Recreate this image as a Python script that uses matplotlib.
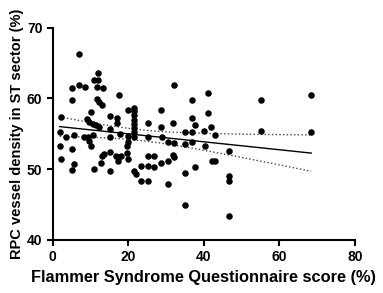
import numpy as np
import matplotlib
matplotlib.use('Agg')
import matplotlib.pyplot as plt

plt.rcParams['font.family'] = ['Liberation Sans', 'DejaVu Sans']
plt.rcParams['font.weight'] = 'bold'

# Flammer score (%) and RPC vessel density in ST sector (%)
fsq_score = [
    6.9, 11.9, 11.0, 11.9, 5.1, 6.8, 8.5, 11.7, 13.3, 17.4, 32.2, 5.1,
    11.7, 12.3, 13.1, 41.1, 36.8, 28.6,
    21.6, 21.6, 21.6, 21.6, 21.6, 21.6, 21.6, 21.6,
    19.8, 10.2, 2.1, 15.2, 16.9, 16.9,
    9.0, 9.7, 10.6, 11.5, 12.2,
    25.2, 31.8, 36.8, 37.5, 41.1, 15.2, 28.7, 40.1, 41.8, 43.0, 35.0, 36.8,
    1.8, 3.5, 5.5, 8.3, 9.3, 9.5, 10.6, 15.1, 17.9, 19.8, 19.9, 19.7,
    25.2, 28.9, 30.5, 32.2, 35.0, 36.8, 40.2,
    1.9, 2.1, 5.1, 5.5, 5.0, 10.2, 10.9, 12.7, 13.0, 13.6, 15.0, 15.0,
    16.8, 18.0, 17.3, 19.7, 20.0, 21.6, 21.9, 23.4, 25.2, 26.9, 25.2, 26.9,
    23.4, 25.2, 28.7, 30.4, 30.5, 31.8, 32.2, 35.1, 35.1, 37.5, 42.0, 43.0,
    46.5, 46.5, 46.5, 46.5, 55.1, 55.1, 68.4, 68.4,
]
rpc_density = [
    66.3, 63.6, 62.6, 62.6, 61.5, 61.9, 61.6, 61.6, 61.5, 60.5, 61.9, 59.8,
    59.9, 59.5, 59.1, 60.7, 59.8, 58.4,
    58.7, 58.2, 57.6, 57.0, 56.4, 55.8, 55.2, 54.6,
    58.3, 58.1, 57.4, 57.5, 57.2, 56.6,
    57.1, 56.7, 56.4, 56.2, 56.0,
    56.6, 56.6, 57.3, 56.3, 57.9, 55.7, 55.9, 55.4, 55.9, 54.8, 55.2, 55.3,
    55.2, 54.6, 54.8, 54.5, 54.6, 54.0, 54.9, 54.6, 55.0, 54.7, 53.8, 53.3,
    54.5, 54.5, 53.9, 53.7, 53.5, 53.9, 53.3,
    53.3, 51.4, 52.8, 50.7, 49.9, 53.3, 50.0, 50.9, 51.9, 52.1, 52.5, 49.8,
    51.9, 51.9, 51.2, 52.3, 51.4, 49.7, 49.3, 50.4, 50.4, 50.3, 51.9, 51.9,
    48.3, 48.3, 50.9, 51.1, 47.9, 52.0, 51.7, 49.5, 45.0, 50.3, 51.2, 51.2,
    52.6, 49.0, 48.3, 43.4, 59.8, 55.4, 60.5, 55.2,
]

x = np.array(fsq_score)
y = np.array(rpc_density)

# linear fit with 95% confidence band
n = len(x)
slope, intercept = np.polyfit(x, y, 1)
resid = y - (slope * x + intercept)
s = np.sqrt(np.sum(resid**2) / (n - 2))
sxx = np.sum((x - x.mean())**2)
xf = np.linspace(x.min(), x.max(), 200)
yf = slope * xf + intercept
half = 1.98 * s * np.sqrt(1.0 / n + (xf - x.mean())**2 / sxx)

fig = plt.figure(figsize=(3.83, 2.93), dpi=100)
ax = fig.add_axes([0.138, 0.181, 0.789, 0.7245])

ax.scatter(x, y, s=22, color='black', zorder=3, linewidths=0)
ax.plot(xf, yf, color='black', lw=1.0)
ax.plot(xf, yf + half, color='#444444', lw=1.0, ls=':')
ax.plot(xf, yf - half, color='#444444', lw=1.0, ls=':')

ax.set_xlim(0, 80)
ax.set_ylim(40, 70)
ax.set_xticks([0, 20, 40, 60, 80])
ax.set_yticks([40, 50, 60, 70])
ax.spines['top'].set_visible(False)
ax.spines['right'].set_visible(False)
ax.spines['left'].set_linewidth(1.5)
ax.spines['bottom'].set_linewidth(1.5)
ax.tick_params(width=1.5, length=4, labelsize=10)
for lab in ax.get_xticklabels() + ax.get_yticklabels():
    lab.set_fontweight('bold')

ax.set_xlabel('Flammer Syndrome Questionnaire score (%)', fontsize=11.8, fontweight='bold', labelpad=4)
ax.set_ylabel('RPC vessel density in ST sector (%)', fontsize=10.5, fontweight='bold', labelpad=2)

fig.savefig('out.png', dpi=100)
